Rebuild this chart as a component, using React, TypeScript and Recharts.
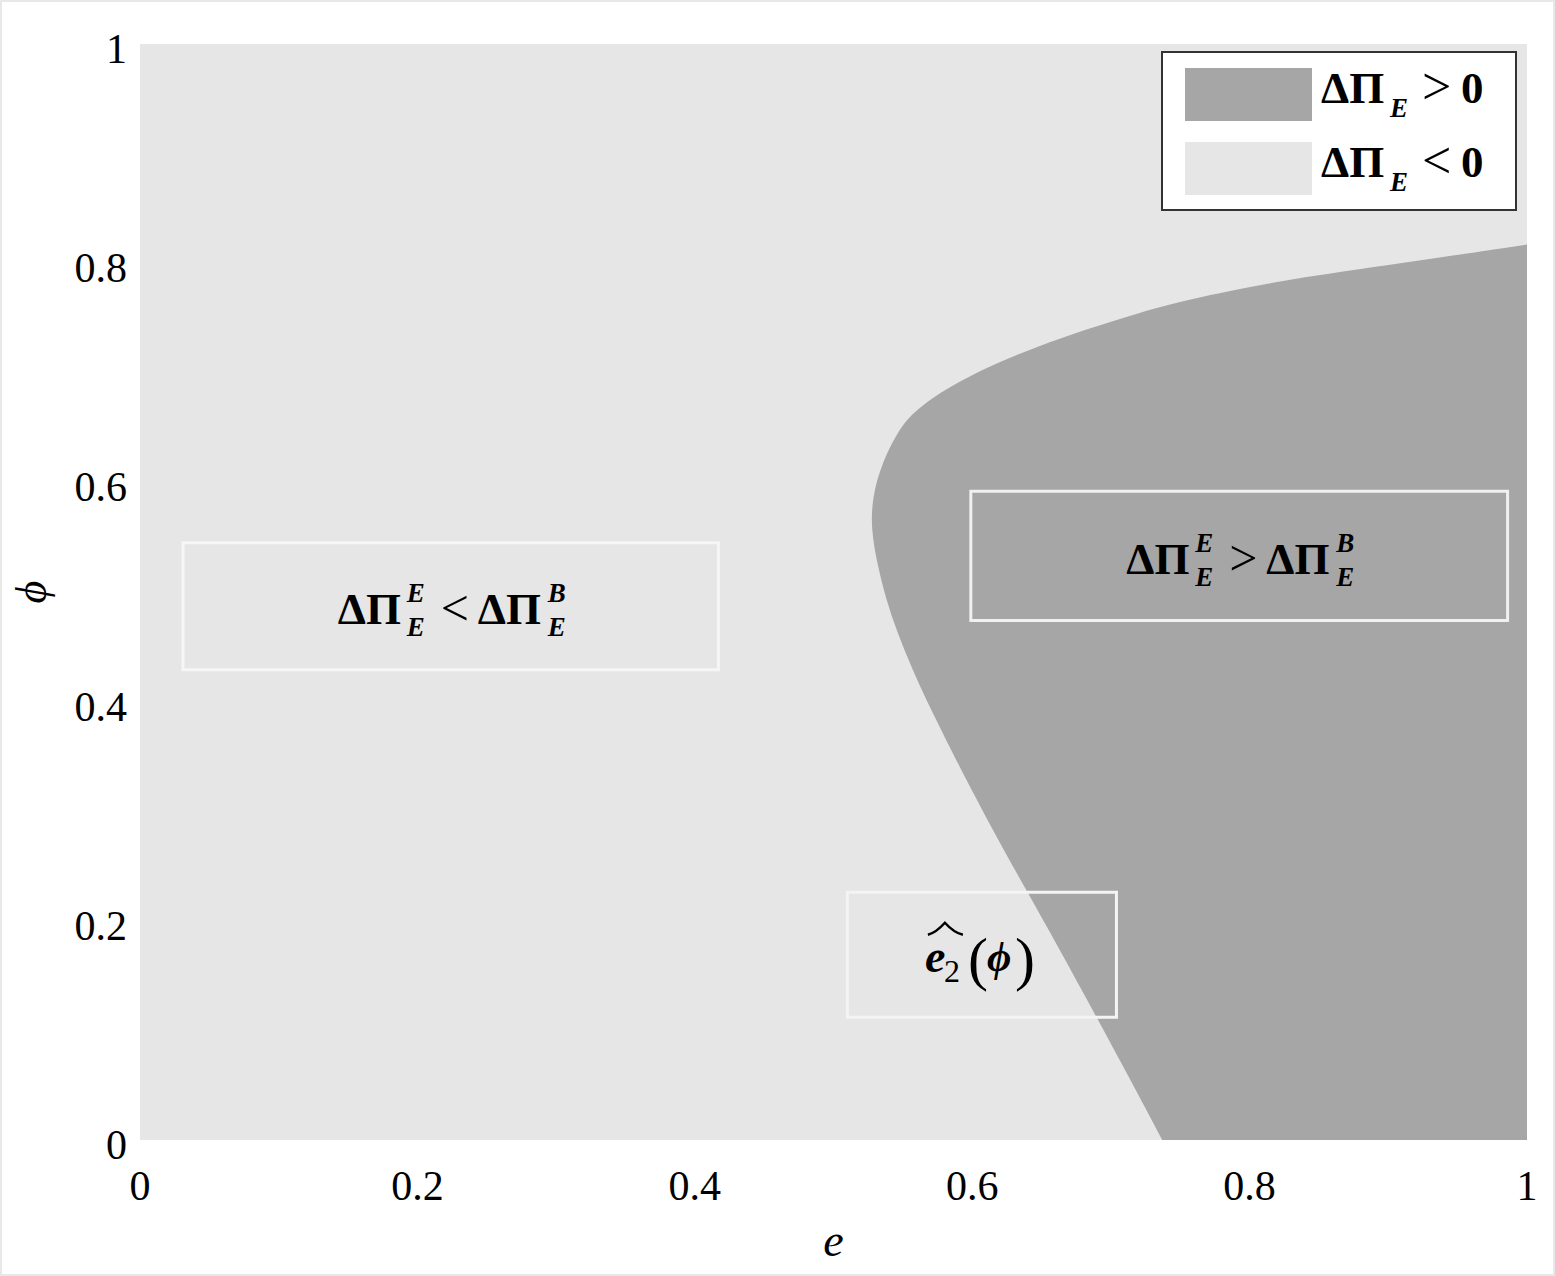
import React from "react";
import {
  ComposedChart,
  Area,
  XAxis,
  YAxis,
  CartesianGrid,
  ReferenceArea,
  Legend,
} from "recharts";

// boundary of the ΔΠ_E > 0 region (phi on the vertical axis)
const phiValues = [
  0, 0.055, 0.116, 0.176, 0.228, 0.28, 0.34, 0.401, 0.432, 0.463, 0.493, 0.523,
  0.557, 0.587, 0.618, 0.648, 0.663, 0.678, 0.693, 0.709, 0.724, 0.739, 0.755, 0.769, 0.785, 0.8, 0.817,
];
const eBoundary = [
  0.737, 0.714, 0.688, 0.662, 0.639, 0.616, 0.591, 0.567, 0.556, 0.546, 0.538, 0.532,
  0.527, 0.528, 0.535, 0.547, 0.557, 0.572, 0.592, 0.618, 0.647, 0.681, 0.72, 0.763, 0.826, 0.91, 1.0,
];
const eMax = 1;

const xTicks = [0, 0.2, 0.4, 0.6, 0.8, 1];
const yTicks = [0, 0.2, 0.4, 0.6, 0.8, 1];

const legendItems = [
  { rel: ">", color: "#a6a6a6" },
  { rel: "<", color: "#e6e6e6" },
];

// annotation boxes: [e1, e2, phi1, phi2]
const boxLeft = [0.031, 0.417, 0.429, 0.545];
const boxRight = [0.599, 0.986, 0.474, 0.592];
const boxHat = [0.51, 0.704, 0.112, 0.226];

const data = phiValues.map((phi, i) => ({ phi, region: [eBoundary[i], eMax] }));

const serif = "'Liberation Serif', 'Times New Roman', 'DejaVu Serif', serif";

function deltaLabel(rel: string) {
  return (props: any) => {
    const vb = props.viewBox || {};
    const cx = vb.x + vb.width / 2;
    const cy = vb.y + vb.height / 2;
    const x0 = cx - 113;
    const base = cy + 18;
    const big = { fontFamily: serif, fontSize: 45, fontWeight: 700, fill: "#000" };
    const small = { fontFamily: serif, fontSize: 27, fontWeight: 700, fontStyle: "italic", fill: "#000" };
    return (
      <g>
        <text x={x0} y={base} {...big}>ΔΠ</text>
        <text x={x0 + 69} y={cy - 4} {...small}>E</text>
        <text x={x0 + 69} y={cy + 30} {...small}>E</text>
        <text x={x0 + 103} y={base + 1} {...big} fontSize={50} fontWeight={400}>{rel}</text>
        <text x={x0 + 140} y={base} {...big}>ΔΠ</text>
        <text x={x0 + 210} y={cy - 4} {...small}>B</text>
        <text x={x0 + 210} y={cy + 30} {...small}>E</text>
      </g>
    );
  };
}

function hatLabel(props: any) {
  const vb = props.viewBox || {};
  const cx = vb.x + vb.width / 2;
  const cy = vb.y + vb.height / 2;
  return (
    <g fontFamily={serif} fill="#000">
      <path
        d={`M ${cx - 54} ${cy - 20} Q ${cx - 46} ${cy - 22} ${cx - 37} ${cy - 32} Q ${cx - 28} ${cy - 22} ${cx - 19} ${cy - 20}`}
        stroke="#000"
        strokeWidth={2.5}
        fill="none"
      />
      <text x={cx - 57} y={cy + 17} fontSize={46} fontWeight={700} fontStyle="italic">e</text>
      <text x={cx - 38} y={cy + 27} fontSize={32}>2</text>
      <text x={cx - 14} y={cy + 24} fontSize={60}>(</text>
      <text x={cx + 5} y={cy + 16} fontSize={42} fontWeight={700} fontStyle="italic">ϕ</text>
      <text x={cx + 33} y={cy + 24} fontSize={60}>)</text>
    </g>
  );
}

function LegendBox() {
  return (
    <svg width={356} height={160} style={{ display: "block" }}>
      <rect x={1} y={1} width={354} height={158} fill="#fff" stroke="#333" strokeWidth={2} />
      {legendItems.map((it, i) => {
        const top = 17 + i * 74;
        const base = 52 + i * 74;
        return (
          <g key={i} fontFamily={serif} fill="#000">
            <rect x={24} y={top} width={127} height={53} fill={it.color} />
            <text x={160} y={base} fontSize={45} fontWeight={700}>ΔΠ</text>
            <text x={229} y={base + 14} fontSize={27} fontWeight={700} fontStyle="italic">E</text>
            <text x={261} y={base + 1} fontSize={52}>{it.rel}</text>
            <text x={300} y={base} fontSize={45} fontWeight={700}>0</text>
          </g>
        );
      })}
    </svg>
  );
}

export default function App() {
  const tickStyle = { fontFamily: serif, fontSize: 42, fill: "#000" };
  return (
    <div
      style={{
        position: "absolute",
        left: 0,
        top: 0,
        width: 1555,
        height: 1276,
        background: "#fff",
        boxShadow: "inset 0 0 0 2px #e8e8e8",
      }}
    >
      <ComposedChart
        layout="vertical"
        width={1555}
        height={1276}
        data={data}
        margin={{ top: 44, right: 28, bottom: 16, left: 0 }}
      >
        <CartesianGrid fill="#e6e6e6" fillOpacity={1} horizontal={false} vertical={false} />
        <XAxis
          type="number"
          dataKey="e"
          domain={[0, 1]}
          ticks={xTicks}
          tickFormatter={(v: number) => String(v)}
          axisLine={false}
          tickLine={false}
          tickMargin={24}
          height={120}
          tick={tickStyle}
          allowDataOverflow
          label={{
            value: "e",
            position: "insideBottom",
            offset: 4,
            style: { fontFamily: serif, fontSize: 46, fontStyle: "italic", fill: "#000" },
          }}
        />
        <YAxis
          type="number"
          dataKey="phi"
          domain={[0, 1]}
          reversed
          ticks={yTicks}
          tickFormatter={(v: number) => String(v)}
          axisLine={false}
          tickLine={false}
          tickMargin={7}
          width={140}
          tick={{ ...tickStyle, dy: 4 }}
          allowDataOverflow
          label={(p: any) => {
            const vb = p.viewBox || {};
            const cx = vb.x + 33;
            const cy = vb.y + vb.height / 2;
            return (
              <text
                transform={`translate(${cx},${cy}) rotate(-90)`}
                textAnchor="middle"
                dy="0.3em"
                fontFamily={serif}
                fontSize={44}
                fontStyle="italic"
                fill="#000"
              >
                ϕ
              </text>
            );
          }}
        />
        <Area
          type="basis"
          dataKey="region"
          fill="#a6a6a6"
          fillOpacity={1}
          stroke="none"
          isAnimationActive={false}
          dot={false}
          activeDot={false}
        />
        <ReferenceArea
          x1={boxLeft[0]}
          x2={boxLeft[1]}
          y1={boxLeft[2]}
          y2={boxLeft[3]}
          fill="none"
          stroke="#f6f6f6"
          strokeWidth={3}
          zIndex={500}
          label={deltaLabel("<")}
        />
        <ReferenceArea
          x1={boxRight[0]}
          x2={boxRight[1]}
          y1={boxRight[2]}
          y2={boxRight[3]}
          fill="none"
          stroke="#f0f0f0"
          strokeWidth={3}
          zIndex={500}
          label={deltaLabel(">")}
        />
        <ReferenceArea
          x1={boxHat[0]}
          x2={boxHat[1]}
          y1={boxHat[2]}
          y2={boxHat[3]}
          fill="none"
          stroke="#f4f4f4"
          strokeWidth={3}
          zIndex={500}
          label={hatLabel}
        />
        <Legend
          layout="horizontal"
          align="center"
          verticalAlign="middle"
          wrapperStyle={{ left: 1161, top: 51, width: 356, height: 160 }}
          content={() => <LegendBox />}
        />
      </ComposedChart>
    </div>
  );
}
